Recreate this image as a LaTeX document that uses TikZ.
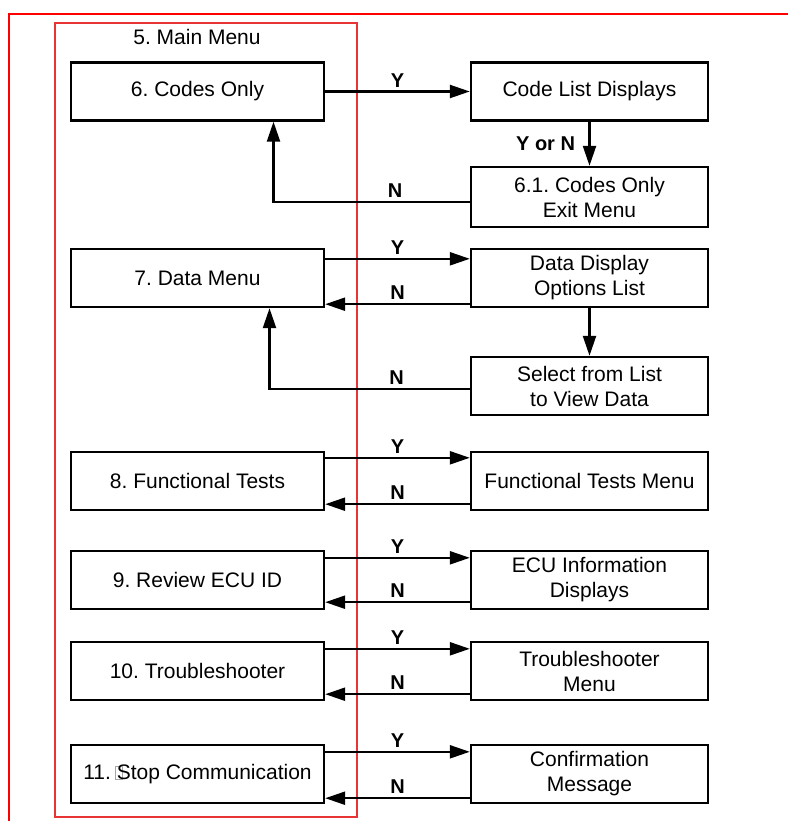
\documentclass[tikz,border=0pt]{standalone}
\usepackage{fontspec}
\setmainfont{Liberation Sans}
\usetikzlibrary{arrows.meta, calc}
\frenchspacing
\definecolor{menured}{RGB}{232,52,52}
% missing-glyph box printed in item 11
\newcommand{\tofubox}{{\color{gray!70}\fboxsep=0pt\fboxrule=0.4pt\fbox{\rule{0pt}{13pt}\hspace{7pt}}}}

\begin{document}
\begin{tikzpicture}[x=1pt, y=-1pt,
    menubox/.style={draw, line width=2.4pt, minimum width=253pt, minimum height=58pt,
                    inner sep=0pt, align=center, font=\fontsize{21}{25}\selectfont},
    screenbox/.style={menubox, minimum width=237pt},
    flow/.style={line width=2.3pt, -{Triangle[length=20pt,width=13pt]}},
    lbl/.style={font=\fontsize{20}{22}\selectfont\bfseries}]
  \useasboundingbox (0,0) rectangle (788,821);
  % Page frame
  \draw[red, line width=2pt] (9,821) -- (9,14) -- (788,14);
  % Main menu column
  \draw[menured, line width=1.1pt] (55,23) rectangle (357,817);
  \node[font=\fontsize{21}{25}\selectfont] (mainmenu) at (197,37) {5. Main Menu};
  % Menu items on the left
  \node[menubox] (codes)   at (197.5,91.5) {6. Codes Only};
  \node[menubox] (data)    at (197.5,278)  {7. Data Menu};
  \node[menubox] (func)    at (197.5,481)  {8. Functional Tests};
  \node[menubox] (ecu)     at (197.5,580)  {9. Review ECU ID};
  \node[menubox] (trouble) at (197.5,671)  {10. Troubleshooter};
  \node[menubox] (stop)    at (197.5,774)  {11.\hspace{4pt}\tofubox\kern-6pt Stop Communication};
  % Screens on the right
  \node[screenbox] (codelist)    at (589.5,91.5) {Code List Displays};
  \node[screenbox, minimum height=60pt] (codesexit) at (589.5,197) {6.1. Codes Only\\Exit Menu};
  \node[screenbox] (dataopts)    at (589.5,278) {Data Display\\Options List};
  \node[screenbox] (datasel)     at (589.5,386) {Select from List\\to View Data};
  \node[screenbox] (funcmenu)    at (589.5,481) {Functional Tests Menu};
  \node[screenbox] (ecuinfo)     at (589.5,580) {ECU Information\\Displays};
  \node[screenbox] (troublemenu) at (589.5,671) {Troubleshooter\\Menu};
  \node[screenbox] (confirm)     at (589.5,774) {Confirmation\\Message};
  % Codes only
  \draw[flow] (codes) -- node[lbl, above] {Y} (codelist);
  \draw[flow] (codelist) -- node[lbl, left=10pt] {Y or N} (codesexit);
  \draw[flow] ([yshift=-5pt]codesexit.west) -| node[lbl, above, pos=0.19] {N} ([xshift=76pt]codes.south);
  % Data menu
  \draw[flow] ([yshift=-11pt]data.north east) -- node[lbl, above] {Y} ([yshift=-11pt]dataopts.north west);
  \draw[flow] ([yshift=4pt]dataopts.south west) -- node[lbl, above] {N} ([yshift=4pt]data.south east);
  \draw[flow] (dataopts) -- (datasel);
  \draw[flow] ([yshift=-3pt]datasel.west) -| node[lbl, above, pos=0.183] {N} ([xshift=72pt]data.south);
  % Functional tests
  \draw[flow] ([yshift=-7pt]func.north east) -- node[lbl, above] {Y} ([yshift=-7pt]funcmenu.north west);
  \draw[flow] ([yshift=7pt]funcmenu.south west) -- node[lbl, above] {N} ([yshift=7pt]func.south east);
  % Review ECU ID
  \draw[flow] ([yshift=-8pt]ecu.north east) -- node[lbl, above] {Y} ([yshift=-8pt]ecuinfo.north west);
  \draw[flow] ([yshift=8pt]ecuinfo.south west) -- node[lbl, above] {N} ([yshift=8pt]ecu.south east);
  % Troubleshooter
  \draw[flow] ([yshift=-8pt]trouble.north east) -- node[lbl, above] {Y} ([yshift=-8pt]troublemenu.north west);
  \draw[flow] ([yshift=7pt]troublemenu.south west) -- node[lbl, above] {N} ([yshift=7pt]trouble.south east);
  % Stop communication
  \draw[flow] ([yshift=-8pt]stop.north east) -- node[lbl, above] {Y} ([yshift=-8pt]confirm.north west);
  \draw[flow] ([yshift=6pt]confirm.south west) -- node[lbl, above] {N} ([yshift=6pt]stop.south east);
\end{tikzpicture}
\end{document}
